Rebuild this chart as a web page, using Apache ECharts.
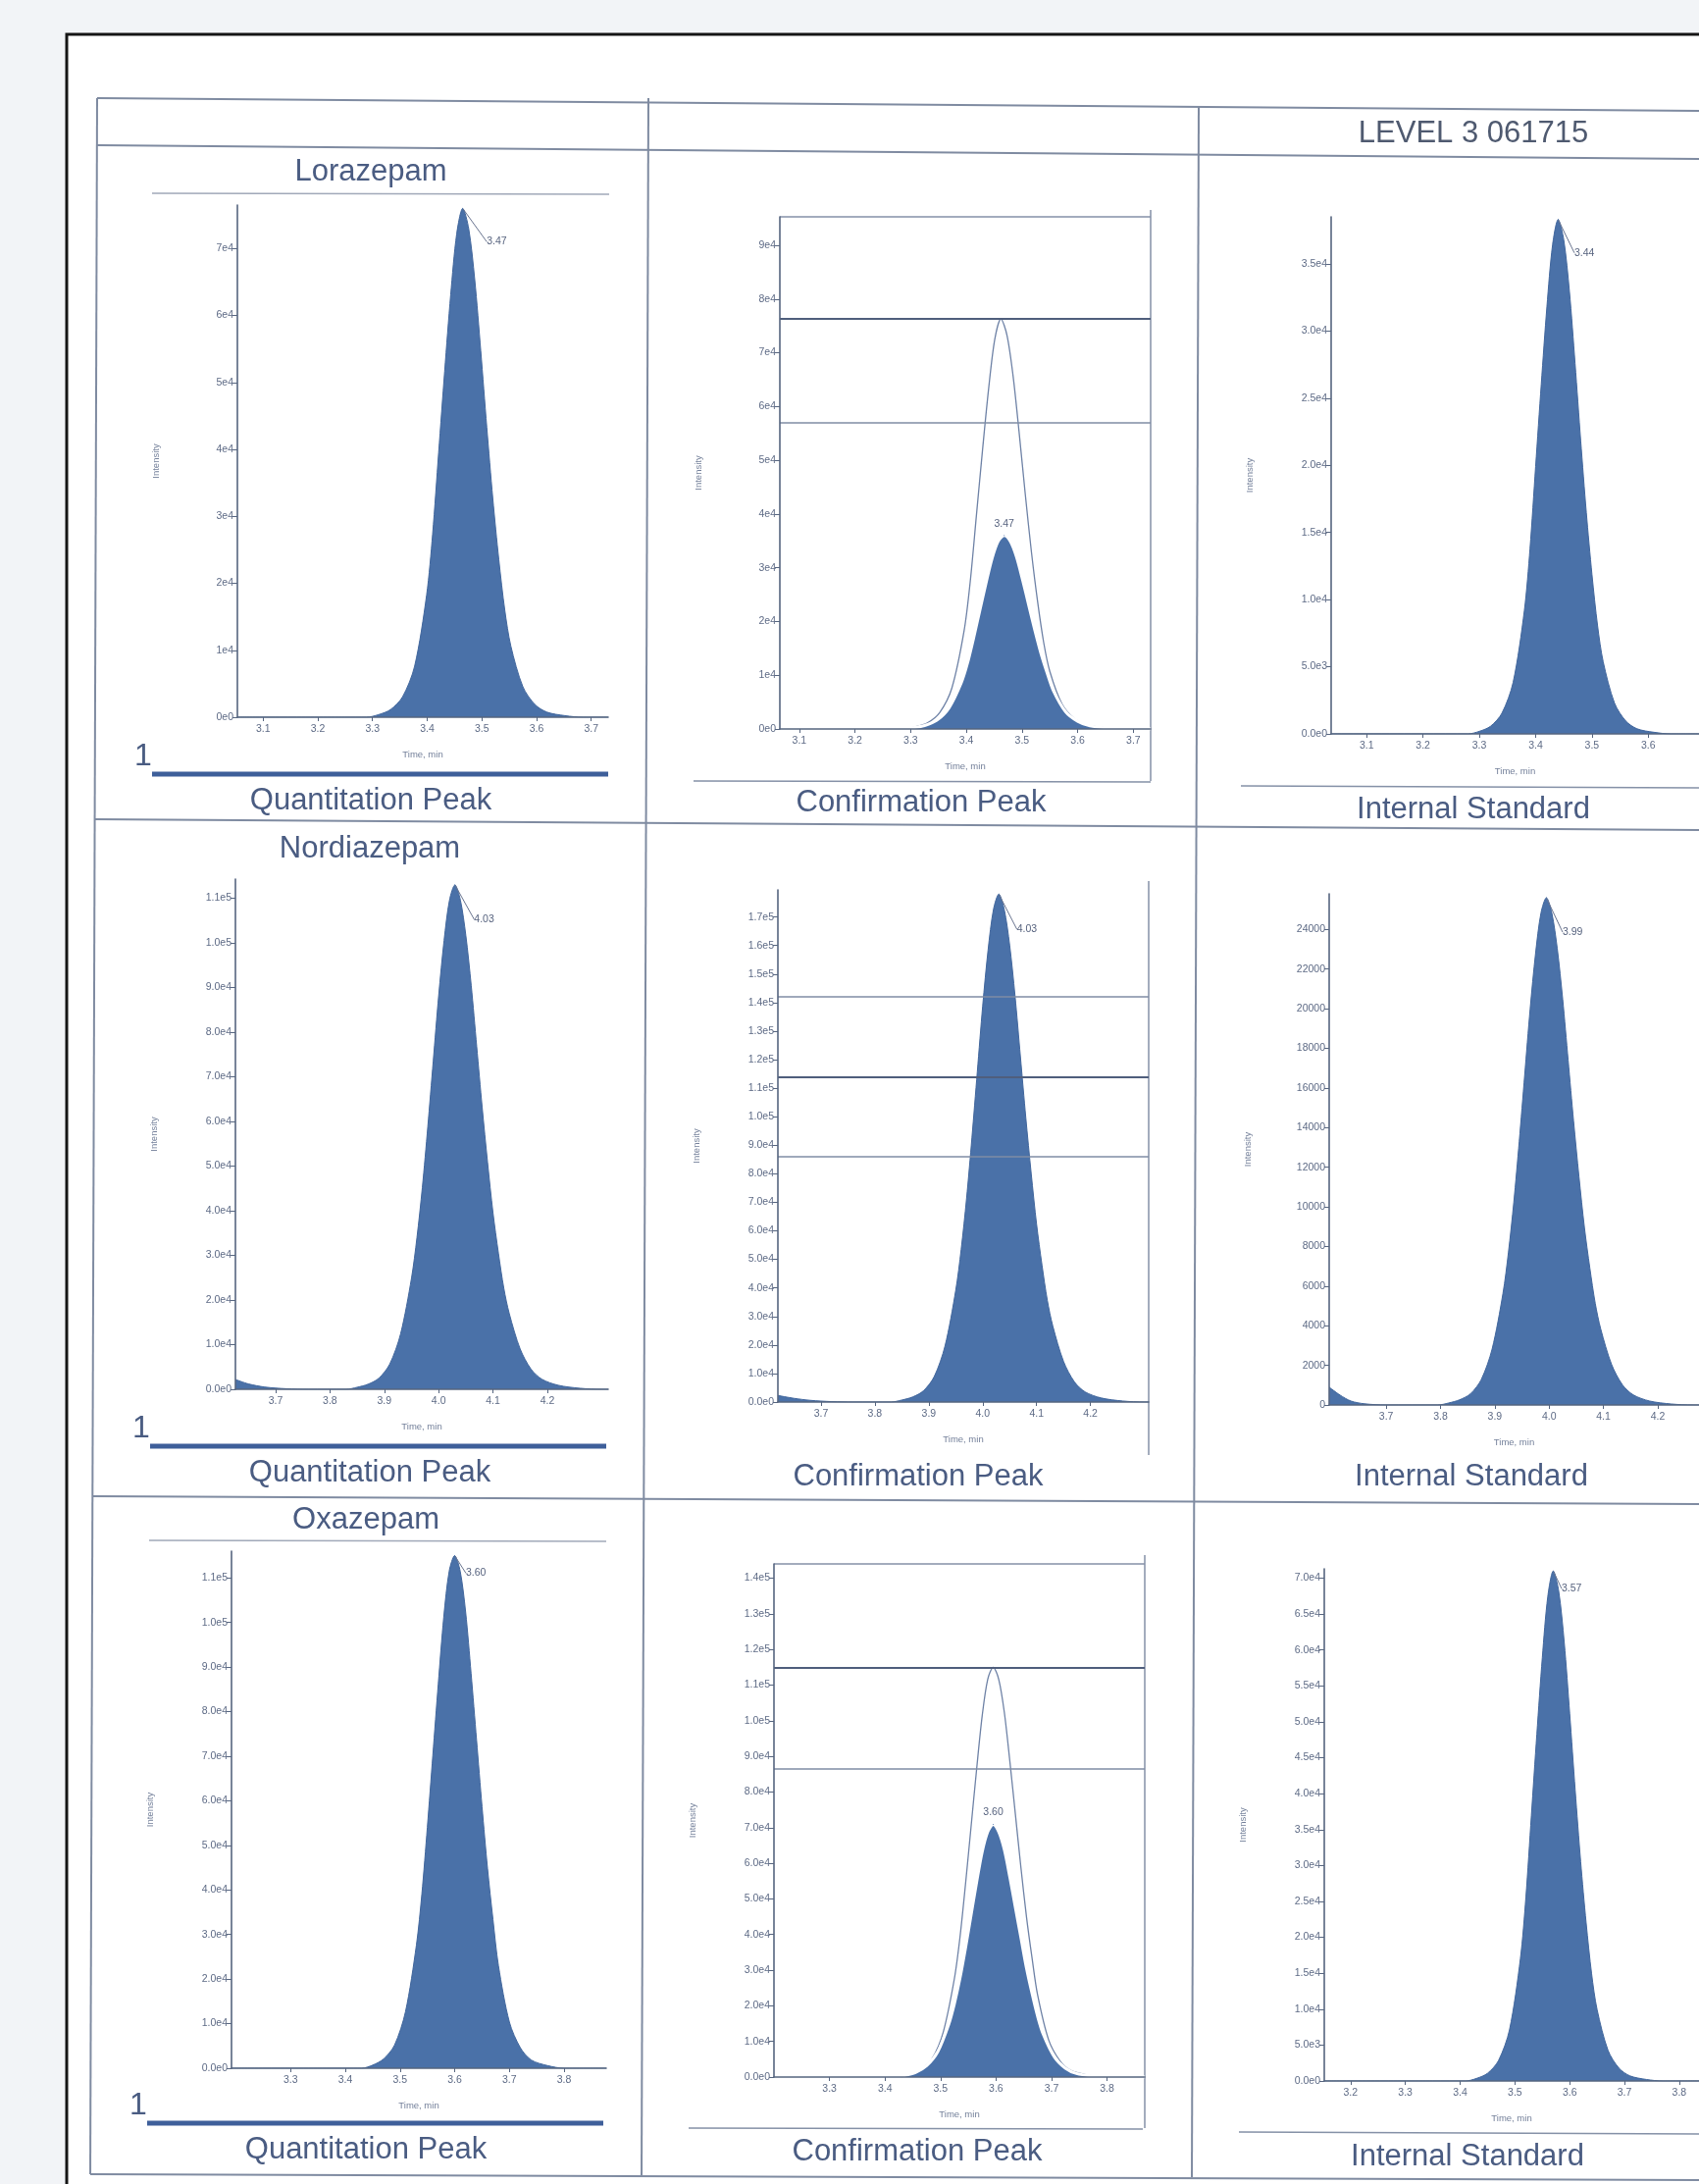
<!DOCTYPE html>
<html><head><meta charset="utf-8">
<script src="https://cdn.jsdelivr.net/npm/echarts@6/dist/echarts.min.js"></script>
<style>html,body{margin:0;padding:0;background:#f2f4f7;}#c{width:1732px;height:2226px;}</style>
</head><body><div id="c"></div><script>
const peakLabels = ['3.47','3.47','3.44','4.03','4.03','3.99','3.60','3.60','3.57'];

// Lorazepam
const loraQuantT = [3.053,3.25,3.289,3.311,3.333,3.355,3.377,3.399,3.410,3.421,3.432,3.443,3.454,3.465,3.476,3.487,3.498,3.509,3.520,3.531,3.542,3.553,3.575,3.597,3.619,3.652,3.685,3.731];
const loraQuantI = [0,0,0,380,1140,3040,7600,18240,27360,39520,51680,63080,72200,76000,72960,65360,54720,43320,32680,23560,15960,10640,4560,1900,760,230,0,0];
const loraOverT = [3.065,3.25,3.286,3.308,3.330,3.352,3.374,3.396,3.407,3.418,3.429,3.440,3.451,3.462,3.473,3.484,3.495,3.506,3.517,3.528,3.539,3.550,3.572,3.594,3.616,3.649,3.682,3.731];
const loraOverI = [0,0,0,380,1140,3050,7630,18310,27470,39680,51880,63330,72490,76300,73250,65620,54940,43490,32810,23650,16020,10680,4580,1910,760,230,0,0];
const loraConfT = [3.065,3.25,3.281,3.303,3.325,3.347,3.369,3.391,3.402,3.413,3.424,3.435,3.446,3.457,3.468,3.479,3.490,3.501,3.512,3.523,3.534,3.545,3.556,3.578,3.600,3.622,3.655,3.688,3.731];
const loraConfI = [0,0,0,216,648,1620,3960,8640,12240,16920,21960,27000,31680,34920,36000,34920,32040,27720,23040,18360,14040,10440,7200,3240,1440,576,180,0,0];
const loraConfLimits = [57000,76300];
const loraIsT = [3.037,3.2,3.28,3.30,3.32,3.34,3.36,3.38,3.39,3.40,3.41,3.42,3.43,3.44,3.45,3.46,3.47,3.48,3.49,3.50,3.51,3.52,3.54,3.56,3.58,3.61,3.64,3.69];
const loraIsI = [0,0,0,190,570,1530,3830,9190,13790,19920,26040,31790,36390,38300,36770,32940,27580,21830,16470,11870,8040,5360,2300,960,380,120,0,0];

// Nordiazepam
const nordQuantT = [3.626,3.65,3.68,3.72,3.76,3.83,3.85,3.87,3.89,3.91,3.93,3.95,3.96,3.97,3.98,3.99,4.00,4.01,4.02,4.03,4.04,4.05,4.06,4.07,4.08,4.09,4.10,4.11,4.12,4.13,4.15,4.17,4.19,4.22,4.26,4.30,4.312];
const nordQuantI = [2200,1200,500,120,0,0,450,1130,2490,5650,12430,24860,33900,45200,58760,73450,88140,100570,109610,113000,109610,101700,90400,76840,63280,50850,39550,30510,22600,16950,9040,4520,2260,900,230,0,0];
const nordConfT = [3.62,3.65,3.68,3.72,3.76,3.83,3.85,3.87,3.89,3.91,3.93,3.95,3.96,3.97,3.98,3.99,4.00,4.01,4.02,4.03,4.04,4.05,4.06,4.07,4.08,4.09,4.10,4.11,4.12,4.13,4.15,4.17,4.19,4.22,4.26,4.30,4.308];
const nordConfI = [2300,1300,600,150,0,0,710,1780,3920,8900,19580,39160,53400,71200,92560,115700,138840,158420,172660,178000,172660,160200,142400,121040,99680,80100,62300,48060,35600,26700,14240,7120,3560,1420,360,0,0];
const nordConfLimits = [86000,114000,142000];
const nordIsT = [3.595,3.615,3.635,3.66,3.70,3.795,3.815,3.835,3.855,3.875,3.895,3.915,3.925,3.935,3.945,3.955,3.965,3.975,3.985,3.995,4.005,4.015,4.025,4.035,4.045,4.055,4.065,4.075,4.085,4.095,4.115,4.135,4.155,4.185,4.225,4.265,4.276];
const nordIsI = [900,500,200,60,0,0,100,260,560,1280,2820,5630,7680,10240,13310,16640,19970,22780,24830,25600,24830,23040,20480,17410,14340,11520,8960,6910,5120,3840,2050,1020,510,200,50,0,0];

// Oxazepam
const oxaQuantT = [3.192,3.40,3.43,3.45,3.47,3.49,3.51,3.53,3.54,3.55,3.56,3.57,3.58,3.59,3.60,3.61,3.62,3.63,3.64,3.65,3.66,3.67,3.68,3.70,3.72,3.74,3.77,3.80,3.877];
const oxaQuantI = [0,0,0,690,2070,5180,12650,27600,39100,54050,70150,86250,101200,111550,115000,111550,102350,88550,73600,58650,44850,33350,23000,10350,4600,1840,580,0,0];
const oxaOverT = [3.2,3.40,3.425,3.445,3.465,3.485,3.505,3.525,3.535,3.545,3.555,3.565,3.575,3.585,3.595,3.605,3.615,3.625,3.635,3.645,3.655,3.665,3.675,3.695,3.715,3.735,3.765,3.795,3.868];
const oxaOverI = [0,0,0,690,2070,5180,12650,27600,39100,54050,70150,86250,101200,111550,115000,111550,102350,88550,73600,58650,44850,33350,23000,10350,4600,1840,580,0,0];
const oxaConfT = [3.2,3.38,3.415,3.435,3.455,3.475,3.495,3.515,3.525,3.535,3.545,3.555,3.565,3.575,3.585,3.595,3.605,3.615,3.625,3.635,3.645,3.655,3.665,3.675,3.685,3.705,3.725,3.745,3.775,3.805,3.868];
const oxaConfI = [0,0,0,430,1280,3190,7090,14890,20560,27650,36160,45380,54590,63100,68770,70900,68770,63810,56010,47500,39000,30490,23400,17020,12050,5670,2480,990,280,0,0];
const oxaConfLimits = [86500,115000];
const oxaIsT = [3.152,3.35,3.41,3.43,3.45,3.47,3.49,3.51,3.52,3.53,3.54,3.55,3.56,3.57,3.58,3.59,3.60,3.61,3.62,3.63,3.64,3.65,3.67,3.69,3.71,3.74,3.77,3.836];
const oxaIsI = [0,0,0,360,1070,2840,7100,17040,25560,36920,48280,58930,67450,71000,68160,61060,51120,40470,30530,22010,14910,9940,4260,1780,710,210,0,0];

// tick values / labels
const xTicksLora = [3.1,3.2,3.3,3.4,3.5,3.6,3.7];
const xLabelsLora = ['3.1','3.2','3.3','3.4','3.5','3.6','3.7'];
const xTicksLoraIs = [3.1,3.2,3.3,3.4,3.5,3.6];
const xLabelsLoraIs = ['3.1','3.2','3.3','3.4','3.5','3.6'];
const xTicksNord = [3.7,3.8,3.9,4.0,4.1,4.2];
const xLabelsNord = ['3.7','3.8','3.9','4.0','4.1','4.2'];
const xTicksOxa = [3.3,3.4,3.5,3.6,3.7,3.8];
const xLabelsOxa = ['3.3','3.4','3.5','3.6','3.7','3.8'];
const xTicksOxaIs = [3.2,3.3,3.4,3.5,3.6,3.7,3.8];
const xLabelsOxaIs = ['3.2','3.3','3.4','3.5','3.6','3.7','3.8'];

const yTicksLoraQ = [0,10000,20000,30000,40000,50000,60000,70000];
const yLabelsLoraQ = ['0e0','1e4','2e4','3e4','4e4','5e4','6e4','7e4'];
const yTicksLoraC = [0,10000,20000,30000,40000,50000,60000,70000,80000,90000];
const yLabelsLoraC = ['0e0','1e4','2e4','3e4','4e4','5e4','6e4','7e4','8e4','9e4'];
const yTicksLoraIs = [0,5000,10000,15000,20000,25000,30000,35000];
const yLabelsLoraIs = ['0.0e0','5.0e3','1.0e4','1.5e4','2.0e4','2.5e4','3.0e4','3.5e4'];
const yTicksNordQ = [0,10000,20000,30000,40000,50000,60000,70000,80000,90000,100000,110000];
const yLabelsNordQ = ['0.0e0','1.0e4','2.0e4','3.0e4','4.0e4','5.0e4','6.0e4','7.0e4','8.0e4','9.0e4','1.0e5','1.1e5'];
const yTicksNordC = [0,10000,20000,30000,40000,50000,60000,70000,80000,90000,100000,110000,120000,130000,140000,150000,160000,170000];
const yLabelsNordC = ['0.0e0','1.0e4','2.0e4','3.0e4','4.0e4','5.0e4','6.0e4','7.0e4','8.0e4','9.0e4','1.0e5','1.1e5','1.2e5','1.3e5','1.4e5','1.5e5','1.6e5','1.7e5'];
const yTicksNordIs = [0,2000,4000,6000,8000,10000,12000,14000,16000,18000,20000,22000,24000];
const yLabelsNordIs = ['0','2000','4000','6000','8000','10000','12000','14000','16000','18000','20000','22000','24000'];
const yTicksOxaQ = [0,10000,20000,30000,40000,50000,60000,70000,80000,90000,100000,110000];
const yLabelsOxaQ = ['0.0e0','1.0e4','2.0e4','3.0e4','4.0e4','5.0e4','6.0e4','7.0e4','8.0e4','9.0e4','1.0e5','1.1e5'];
const yTicksOxaC = [0,10000,20000,30000,40000,50000,60000,70000,80000,90000,100000,110000,120000,130000,140000];
const yLabelsOxaC = ['0.0e0','1.0e4','2.0e4','3.0e4','4.0e4','5.0e4','6.0e4','7.0e4','8.0e4','9.0e4','1.0e5','1.1e5','1.2e5','1.3e5','1.4e5'];
const yTicksOxaIs = [0,5000,10000,15000,20000,25000,30000,35000,40000,45000,50000,55000,60000,65000,70000];
const yLabelsOxaIs = ['0.0e0','5.0e3','1.0e4','1.5e4','2.0e4','2.5e4','3.0e4','3.5e4','4.0e4','4.5e4','5.0e4','5.5e4','6.0e4','6.5e4','7.0e4'];

// ---------------- layout / style ----------------
const FONT = '"Liberation Sans", Arial, sans-serif';
const AX = '#56657f', LAB = '#5d6a85', FILL = '#4a71a8', EDGE = '#41669c';
const TXT = '#4a5c82', TBL = '#7f8ba1';

const panels = [
  {g:[242,209,378,522], x:[3.053,3.731], yMax:76500, xt:xTicksLora, xl:xLabelsLora, yt:yTicksLoraQ, yl:yLabelsLoraQ, main:[loraQuantT,loraQuantI], lab:[19,34]},
  {g:[795,221,378,522], x:[3.065,3.731], yMax:95300, xt:xTicksLora, xl:xLabelsLora, yt:yTicksLoraC, yl:yLabelsLoraC, main:[loraConfT,loraConfI], over:[loraOverT,loraOverI], limits:loraConfLimits},
  {g:[1357,221,375,527], x:[3.037,3.69], yMax:38500, xt:xTicksLoraIs, xl:xLabelsLoraIs, yt:yTicksLoraIs, yl:yLabelsLoraIs, main:[loraIsT,loraIsI], lab:[11,34]},
  {g:[240,896,380,520], x:[3.626,4.312], yMax:114300, xt:xTicksNord, xl:xLabelsNord, yt:yTicksNordQ, yl:yLabelsNordQ, main:[nordQuantT,nordQuantI], lab:[14,35]},
  {g:[793,907,378,522], x:[3.62,4.308], yMax:179500, xt:xTicksNord, xl:xLabelsNord, yt:yTicksNordC, yl:yLabelsNordC, main:[nordConfT,nordConfI], limits:nordConfLimits, lab:[13,36]},
  {g:[1355,911,377,521], x:[3.595,4.276], yMax:25800, xt:xTicksNord, xl:xLabelsNord, yt:yTicksNordIs, yl:yLabelsNordIs, main:[nordIsT,nordIsI], lab:[11,35]},
  {g:[236,1581,382,527], x:[3.192,3.877], yMax:116000, xt:xTicksOxa, xl:xLabelsOxa, yt:yTicksOxaQ, yl:yLabelsOxaQ, main:[oxaQuantT,oxaQuantI], lab:[6,18]},
  {g:[789,1594,378,523], x:[3.2,3.868], yMax:144000, xt:xTicksOxa, xl:xLabelsOxa, yt:yTicksOxaC, yl:yLabelsOxaC, main:[oxaConfT,oxaConfI], over:[oxaOverT,oxaOverI], limits:oxaConfLimits},
  {g:[1350,1599,382,522], x:[3.152,3.836], yMax:71300, xt:xTicksOxaIs, xl:xLabelsOxaIs, yt:yTicksOxaIs, yl:yLabelsOxaIs, main:[oxaIsT,oxaIsI], lab:[3,18]}
];

function zip(t, v){ return t.map((x,i)=>[x, v[i]]); }
function pick(ticks, labels){ return v => { const k = ticks.findIndex(t=>Math.abs(t-v)<1e-6); return k<0?'':labels[k]; }; }

const grid=[], xAxis=[], yAxis=[], series=[];
panels.forEach((p,i)=>{
  grid.push({left:p.g[0], top:p.g[1], width:p.g[2], height:p.g[3], containLabel:false, outerBoundsMode:'none'});
  xAxis.push({type:'value', gridIndex:i, min:p.x[0], max:p.x[1], z:5,
    axisLine:{show:true, onZero:false, lineStyle:{color:AX, width:1.6}},
    axisTick:{show:true, length:4, customValues:p.xt, lineStyle:{color:AX, width:1}},
    axisLabel:{show:true, customValues:p.xt, formatter:pick(p.xt,p.xl), fontSize:10.5, color:LAB, fontFamily:FONT, margin:7},
    splitLine:{show:false},
    name:'Time, min', nameLocation:'middle', nameGap:33, nameTextStyle:{fontSize:9.5, color:'#74809a', fontFamily:FONT}});
  yAxis.push({type:'value', gridIndex:i, min:0, max:p.yMax, z:5,
    axisLine:{show:true, lineStyle:{color:AX, width:1.6}},
    axisTick:{show:true, length:5, customValues:p.yt, lineStyle:{color:AX, width:1}},
    axisLabel:{show:true, customValues:p.yt, formatter:pick(p.yt,p.yl), fontSize:10.5, color:LAB, fontFamily:FONT, margin:4},
    splitLine:{show:false},
    name:'Intensity', nameLocation:'middle', nameGap:78, nameTextStyle:{fontSize:9.5, color:'#74809a', fontFamily:FONT}});
  if (p.over){
    series.push({type:'line', xAxisIndex:i, yAxisIndex:i, data:zip(p.over[0],p.over[1]), smooth:0.3, showSymbol:false, silent:true, z:2,
      lineStyle:{color:'#6e82a6', width:1.3}});
  }
  const m = {type:'line', xAxisIndex:i, yAxisIndex:i, data:zip(p.main[0],p.main[1]), smooth:0.3, showSymbol:false, silent:true, z:3,
    lineStyle: p.over ? {color:'#ffffff', width:3} : {color:EDGE, width:1},
    areaStyle:{color:FILL, opacity:1}};
  if (p.limits){
    m.markLine = {silent:true, symbol:['none','none'], label:{show:false},
      data:p.limits.map((v,k)=>({yAxis:v, lineStyle:{type:'solid', color:k===1?'#4f5e7c':'#7f8ca4', width:k===1?2:1.5}}))};
  }
  series.push(m);
  // apex label
  const I = p.main[1]; const k = I.indexOf(Math.max(...I));
  const apex = [p.main[0][k], I[k]];
  const sc = {type:'scatter', xAxisIndex:i, yAxisIndex:i, data:[apex], symbol:'circle', symbolSize:1, silent:true, z:6,
    itemStyle:{color:FILL, opacity:1},
    label:{show:true, formatter:peakLabels[i], fontSize:10.5, color:'#56627e', fontFamily:FONT, opacity:1}};
  if (p.over){ sc.label.position='top'; sc.label.distance=6; }
  else {
    sc.label.position='right'; sc.label.distance=5;
    sc.labelLayout={dx:p.lab[0], dy:p.lab[1]};
    sc.labelLine={show:true, lineStyle:{color:'#6a7590', width:1}};
  }
  series.push(sc);
});

// ---------------- page furniture (table, headings) ----------------
const L = (x1,y1,x2,y2,c,w)=>({type:'line', z:1, silent:true, shape:{x1,y1,x2,y2}, style:{stroke:c, lineWidth:w}});
const T = (s,x,y,size,c)=>({type:'text', z:1, silent:true, style:{text:s, x, y, font:size+'px '+FONT, fill:c||TXT, align:'center', verticalAlign:'middle', textAlign:'center', textVerticalAlign:'middle'}});
const g = [
  {type:'rect', z:-5, silent:true, shape:{x:68,y:35,width:1700,height:2240}, style:{fill:'#ffffff', stroke:'#151515', lineWidth:3}},
  // table
  L(99,100,92,2216,TBL,2), L(661,100,654,2217,TBL,2), L(1222,108,1215,2219,TBL,2),
  L(99,100,1732,113,TBL,2), L(99,148,1732,162,TBL,2),
  L(97,835,1732,846,TBL,2), L(95,1525,1732,1533,TBL,2), L(92,2216,1732,2222,TBL,2),
  // compound names
  T('Lorazepam',378,175,31), T('Nordiazepam',377,865,31), T('Oxazepam',373,1549,31),
  L(155,197,621,198,'#a1a9b9',1.5), L(152,1570,618,1571,'#a1a9b9',1.5),
  T('LEVEL 3 061715',1502,136,31,'#4f5a70'),
  // quantitation column footers
  T('1',146,771,32), L(155,789,620,789,'#3e5f9a',5), T('Quantitation Peak',378,816,31),
  T('1',144,1456,32), L(153,1474,618,1474,'#3e5f9a',5), T('Quantitation Peak',377,1501,31),
  T('1',141,2146,32), L(150,2164,615,2164,'#3e5f9a',5), T('Quantitation Peak',373,2191,31),
  // confirmation column
  L(795,221,1173,221,'#8591a7',1.5), L(1173,214,1173,796,'#8591a7',1.5), L(707,796,1173,797,'#8591a7',1.5),
  T('Confirmation Peak',939,818,31),
  L(1171,898,1171,1483,'#8591a7',1.5), T('Confirmation Peak',936,1505,31),
  L(789,1594,1167,1594,'#8591a7',1.5), L(1167,1585,1167,2169,'#8591a7',1.5), L(702,2169,1165,2170,'#8591a7',1.5),
  T('Confirmation Peak',935,2193,31),
  // internal standard column
  L(1265,801,1732,803,'#8591a7',1.5), T('Internal Standard',1502,825,31),
  T('Internal Standard',1500,1505,31),
  L(1263,2173,1732,2175,'#8591a7',1.5), T('Internal Standard',1496,2198,31)
];

const chart = echarts.init(document.getElementById('c'), null, {renderer:'canvas', width:1732, height:2226});
chart.setOption({animation:false, backgroundColor:'transparent', grid, xAxis, yAxis, series, graphic:{elements:g}});
</script></body></html>
